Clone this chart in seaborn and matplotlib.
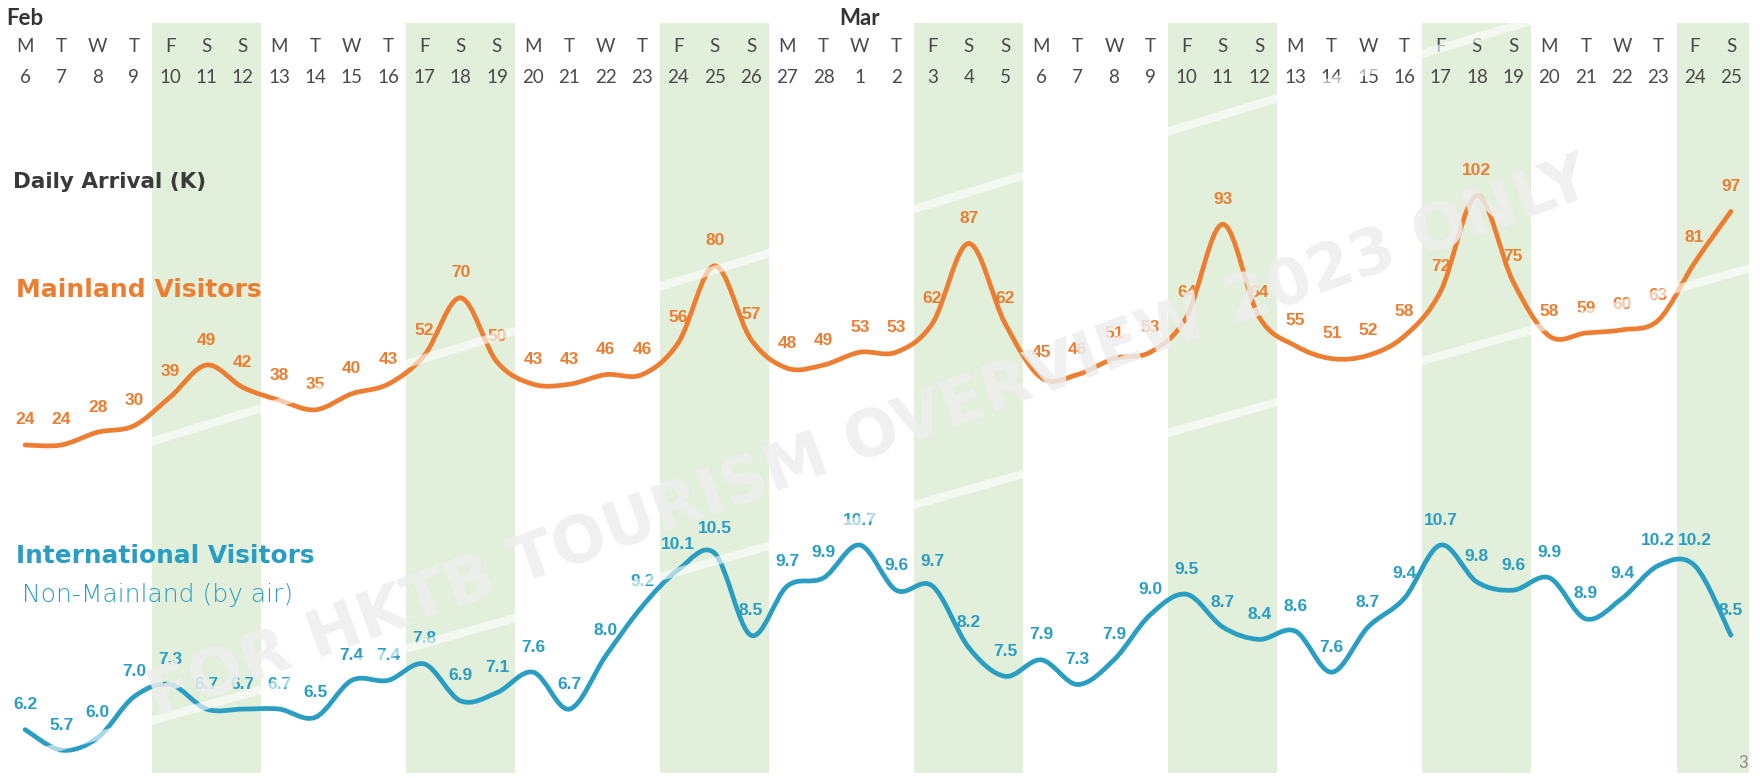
import numpy as np
import pandas as pd
import matplotlib.pyplot as plt
from matplotlib import font_manager as fm
from matplotlib.path import Path
from matplotlib.patches import PathPatch
import seaborn as sns

# Daily arrivals, Feb 6 - Mar 25 2023 (thousands)
day_nums = [6, 7, 8, 9, 10, 11, 12, 13, 14, 15, 16, 17, 18, 19, 20, 21, 22, 23,
            24, 25, 26, 27, 28, 1, 2, 3, 4, 5, 6, 7, 8, 9, 10, 11, 12, 13, 14,
            15, 16, 17, 18, 19, 20, 21, 22, 23, 24, 25]
weekday_letters = ["M", "T", "W", "T", "F", "S", "S"] * 6 + ["M", "T", "W", "T", "F", "S"]
month_labels = {0: "Feb", 23: "Mar"}

mainland = [24, 24, 28, 30, 39, 49, 42,
            38, 35, 40, 43, 52, 70, 50,
            43, 43, 46, 46, 56, 80, 57,
            48, 49, 53, 53, 62, 87, 62,
            45, 46, 51, 53, 64, 93, 64,
            55, 51, 52, 58, 72, 102, 75,
            58, 59, 60, 63, 81, 97]
international = [6.2, 5.7, 6.0, 7.0, 7.3, 6.7, 6.7,
                 6.7, 6.5, 7.4, 7.4, 7.8, 6.9, 7.1,
                 7.6, 6.7, 8.0, 9.2, 10.1, 10.5, 8.5,
                 9.7, 9.9, 10.7, 9.6, 9.7, 8.2, 7.5,
                 7.9, 7.3, 7.9, 9.0, 9.5, 8.7, 8.4,
                 8.6, 7.6, 8.7, 9.4, 10.7, 9.8, 9.6,
                 9.9, 8.9, 9.4, 10.2, 10.2, 8.5]

ORANGE = "#ED7D31"
BLUE = "#2A9DC3"
GREEN = "#E2EFDA"
GREY = "#4a4a4a"

df = pd.DataFrame({"day": np.arange(len(day_nums)), "num": day_nums,
                   "wd": weekday_letters, "mainland": mainland,
                   "international": international})

sns.set_theme(style="white")
plt.rcParams["font.family"] = ["Lato", "DejaVu Sans"]

# narrow font for the data labels if there is one
installed = {f.name for f in fm.fontManager.ttflist}
if "Liberation Sans Narrow" in installed:
    LABEL_FONT, LABEL_SIZE = ["Liberation Sans Narrow", "DejaVu Sans"], 14
else:
    LABEL_FONT, LABEL_SIZE = ["Liberation Sans", "DejaVu Sans"], 12.5


def smooth_path(x, y):
    # Excel-style smoothed line (cubic Bezier through every point)
    pts = np.column_stack([x, y]).astype(float)
    n = len(pts)
    verts, codes = [pts[0]], [Path.MOVETO]
    for i in range(n - 1):
        p0 = pts[i - 1] if i > 0 else pts[i]
        p1, p2 = pts[i], pts[i + 1]
        p3 = pts[i + 2] if i + 2 < n else pts[i + 1]
        verts += [p1 + (p2 - p0) / 6, p2 - (p3 - p1) / 6, p2]
        codes += [Path.CURVE4] * 3
    return Path(verts, codes)


fig = plt.figure(figsize=(17.6, 7.78), dpi=100)
ax = fig.add_axes([0, 0, 1, 1])
ax_m = fig.add_axes([0, 0, 1, 1], facecolor="none")
ax_i = fig.add_axes([0, 0, 1, 1], facecolor="none")
for a in (ax, ax_m, ax_i):
    a.set_xlim(-0.69, 47.8)
    a.axis("off")
ax.set_ylim(0, 1)
ax_m.set_ylim(-80.1, 163.1)
ax_i.set_ylim(5.02, 23.99)

# weekend bands (Fri-Sun)
weekend = df[df["day"] % 7 >= 4]
for d in weekend["day"]:
    ax.axvspan(d - 0.5, d + 0.5, ymin=0.006, ymax=0.971, color=GREEN, lw=0, zorder=0)

# header rows
tr = ax.get_xaxis_transform()
for _, r in df.iterrows():
    ax.text(r["day"], 0.9396, r["wd"], transform=tr, ha="center", va="center",
            fontsize=13.5, color=GREY)
    ax.text(r["day"], 0.9010, str(r["num"]), transform=tr, ha="center", va="center",
            fontsize=13.5, color=GREY)
for d, m in month_labels.items():
    ax.text(d, 0.9756, m, transform=tr, ha="center", va="center",
            fontsize=16, color="#333333", fontweight="bold")

# lines + labels
for a, col, vals, fmt in ((ax_m, ORANGE, mainland, "{:.0f}"),
                          (ax_i, BLUE, international, "{:.1f}")):
    a.add_patch(PathPatch(smooth_path(df["day"], vals), fill=False, edgecolor=col,
                          lw=3.4, capstyle="round", joinstyle="round", zorder=3))
    for d, v in zip(df["day"], vals):
        a.annotate(fmt.format(v), (d, v), xytext=(0, 18), textcoords="offset points",
                   ha="center", va="center", fontsize=LABEL_SIZE, fontweight="bold",
                   color=col, family=LABEL_FONT, zorder=4)

# titles
fig.text(0.0074, 0.766, "Daily Arrival (K)", fontsize=15.5, fontweight="bold",
         color="#3a3a3a", va="center", ha="left", family="DejaVu Sans")
fig.text(0.009, 0.627, "Mainland Visitors", fontsize=18, fontweight="bold",
         color=ORANGE, va="center", ha="left", family="DejaVu Sans")
fig.text(0.009, 0.2853, "International Visitors", fontsize=17.8, fontweight="bold",
         color=BLUE, va="center", ha="left", family="DejaVu Sans")
fig.text(0.0125, 0.235, "Non-Mainland (by air)", fontsize=18, fontweight=200,
         color=BLUE, va="center", ha="left", family="DejaVu Sans")
fig.text(0.993, 0.019, "3", fontsize=12, color="#8a8a8a", ha="right", va="center")

# watermark and its light streaks
for (x0, y0), (x1, y1) in (((0, 0.373), (1, 1.063)), ((0, 0.0184), (1, 0.659))):
    fig.add_artist(plt.Line2D([x0, x1], [y0, y1], transform=fig.transFigure,
                              color="white", alpha=0.6, lw=6, zorder=5))
fig.text(0.494, 0.437, "FOR HKTB TOURISM OVERVIEW 2023 ONLY", rotation=20,
         rotation_mode="anchor", ha="center", va="center", fontsize=46,
         fontweight="bold", family="DejaVu Sans", color="#eeeeee", alpha=0.85,
         zorder=6)

fig.savefig("out.png", dpi=100)
